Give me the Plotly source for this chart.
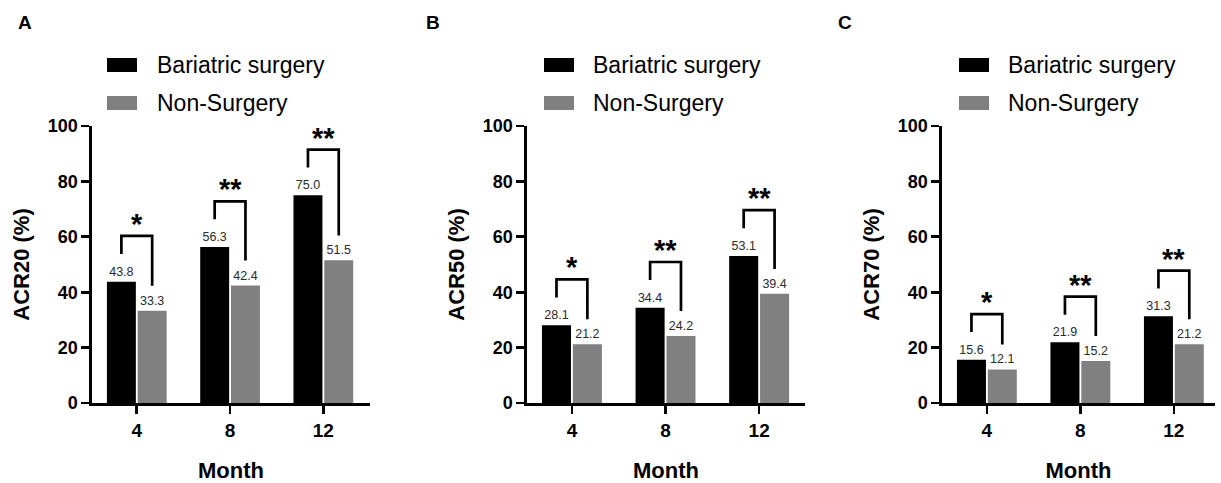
import plotly.graph_objects as go

# ---------------- data ----------------
months = ["4", "8", "12"]
series_names = ["Bariatric surgery", "Non-Surgery"]
panel_letters = ["A", "B", "C"]
y_titles = ["ACR20 (%)", "ACR50 (%)", "ACR70 (%)"]

acr20_surgery = [43.8, 56.3, 75.0]
acr20_nonsurgery = [33.3, 42.4, 51.5]
acr50_surgery = [28.1, 34.4, 53.1]
acr50_nonsurgery = [21.2, 24.2, 39.4]
acr70_surgery = [15.6, 21.9, 31.3]
acr70_nonsurgery = [12.1, 15.2, 21.2]

acr20_sig = ["*", "**", "**"]
acr50_sig = ["*", "**", "**"]
acr70_sig = ["*", "**", "**"]

y_ticks = [0, 20, 40, 60, 80, 100]

# ---------------- style ----------------
W, H = 1221, 483
FONT = "Liberation Sans, Arial, sans-serif"
BLACK = "#000000"
GRAY = "#808080"
LABEL_COLOR = "#2b2b2b"

# pixel layout of each panel (plot area)
x_px = [(92, 370), (527, 805), (942, 1215)]
x_max = [2.5, 2.49, 2.44]
y_top_px, y_bot_px = 126, 403
legend_box_x = [107, 544, 959]
legend_text_x = [155, 591, 1006]
letter_x = [25, 433, 845]

panels = [
    (acr20_surgery, acr20_nonsurgery, acr20_sig),
    (acr50_surgery, acr50_nonsurgery, acr50_sig),
    (acr70_surgery, acr70_nonsurgery, acr70_sig),
]

positions = list(range(len(months)))

fig = go.Figure()
shapes = []
annotations = []


def px_x(p):
    return p / W


def px_y(p):
    return 1 - p / H


for k, (surg, nons, sig) in enumerate(panels):
    xa = "x" if k == 0 else f"x{k+1}"
    ya = "y" if k == 0 else f"y{k+1}"
    for vals, name, col in ((surg, series_names[0], BLACK), (nons, series_names[1], GRAY)):
        fig.add_trace(go.Bar(
            x=positions, y=vals, name=name, xaxis=xa, yaxis=ya,
            marker=dict(color=col, line=dict(width=0)),
            offsetgroup=name,
            text=[f"{v:.1f}" for v in vals], textposition="outside",
            textfont=dict(family=FONT, size=12.5, color=LABEL_COLOR),
            cliponaxis=False, showlegend=False,
        ))
    # significance brackets
    for i, (b, g, s) in enumerate(zip(surg, nons, sig)):
        top = b + 16.5
        fig.add_trace(go.Scatter(
            x=[i - 0.165, i - 0.165, i + 0.165, i + 0.165],
            y=[b + 10, top, top, g + 9],
            mode="lines", line=dict(color=BLACK, width=2.7),
            xaxis=xa, yaxis=ya, showlegend=False, hoverinfo="skip",
            cliponaxis=False,
        ))
        annotations.append(dict(
            x=i, y=top, xref=xa, yref=ya, text=s, showarrow=False,
            yanchor="bottom", yshift=-6,
            font=dict(family=FONT, size=29, color=BLACK, weight="bold"),
        ))

    axis_font = dict(family=FONT, size=18, color=BLACK, weight="bold")
    fig.update_layout(**{
        ("xaxis" if k == 0 else f"xaxis{k+1}"): dict(
            domain=[px_x(x_px[k][0]), px_x(x_px[k][1])],
            anchor=ya, range=[-0.48, x_max[k]], automargin=False,
            tickvals=positions, ticktext=months,
            showline=True, linecolor=BLACK, linewidth=2.7,
            ticks="outside", ticklen=8, tickwidth=2.7, tickcolor=BLACK,
            tickfont=dict(family=FONT, size=19, color=BLACK, weight="bold"),
            showgrid=False, zeroline=False,
            title=dict(text="Month", standoff=25,
                       font=dict(family=FONT, size=22, color=BLACK, weight="bold")),
        ),
        ("yaxis" if k == 0 else f"yaxis{k+1}"): dict(
            domain=[px_y(y_bot_px), px_y(y_top_px)],
            anchor=xa, range=[0, 100], tickvals=y_ticks, automargin=False,
            showline=True, linecolor=BLACK, linewidth=2.7,
            ticks="outside", ticklen=8, tickwidth=2.7, tickcolor=BLACK,
            tickfont=axis_font, showgrid=False, zeroline=False,
            title=dict(text=y_titles[k], standoff=12,
                       font=dict(family=FONT, size=22, color=BLACK, weight="bold")),
        ),
    })

    # manual legend
    for r, (name, col) in enumerate(zip(series_names, (BLACK, GRAY))):
        yc = 65 + r * 38
        shapes.append(dict(
            type="rect", xref="paper", yref="paper",
            x0=px_x(legend_box_x[k]), x1=px_x(legend_box_x[k] + 30),
            y0=px_y(yc + 7), y1=px_y(yc - 7),
            fillcolor=col, line=dict(width=0),
        ))
        annotations.append(dict(
            x=px_x(legend_text_x[k]), y=px_y(yc), xref="paper", yref="paper",
            xanchor="left", yanchor="middle", showarrow=False, text=name,
            font=dict(family=FONT, size=23, color=BLACK),
        ))
    # panel letter
    annotations.append(dict(
        x=px_x(letter_x[k]), y=px_y(22), xref="paper", yref="paper",
        xanchor="center", yanchor="middle", showarrow=False, text=panel_letters[k],
        font=dict(family=FONT, size=19, color=BLACK, weight="bold"),
    ))

fig.update_layout(
    width=W, height=H,
    margin=dict(l=0, r=0, t=0, b=0, autoexpand=False),
    plot_bgcolor="white", paper_bgcolor="white",
    barmode="group", bargap=0.34, bargroupgap=0.06,
    shapes=shapes, annotations=annotations,
    font=dict(family=FONT),
    hovermode=False,
)

fig.write_html(
    "out.html",
    config={"displayModeBar": False, "staticPlot": True},
    post_script="document.body.style.margin='0';document.body.style.overflow='hidden';",
)
